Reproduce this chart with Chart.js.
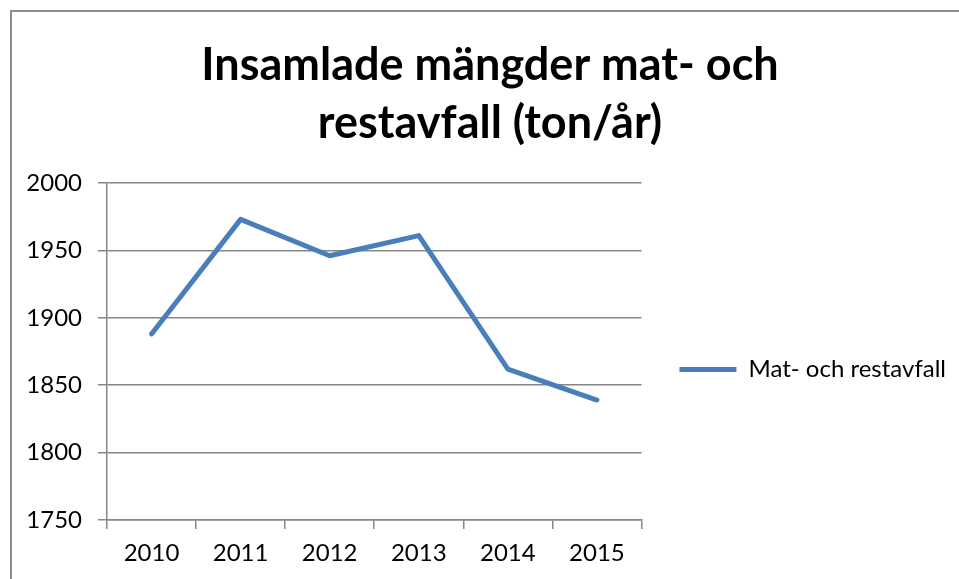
<!DOCTYPE html>
<html lang="sv">
<head>
    <meta charset="UTF-8">
    <title>Insamlade mängder</title>
    <script src="https://cdn.jsdelivr.net/npm/chart.js@4.4.0/dist/chart.umd.min.js"></script>
    <style>
        html, body { margin: 0; padding: 0; background: #fff; }
        #wrap { position: relative; width: 959px; height: 579px; overflow: hidden; }
        #ram { position: absolute; left: 10px; top: 10px; width: 980px; height: 600px;
               border: 2px solid #8c8c8c; pointer-events: none; }
    </style>
</head>
<body>
<div id="wrap">
    <canvas id="graf" width="959" height="579"></canvas>
    <div id="ram"></div>
</div>
<script>

    // Data
    let ar = ['2010', '2011', '2012', '2013', '2014', '2015'];
    let matOchRest = [1888, 1973, 1946, 1961, 1862, 1839];
    let yMin = 1750, yMax = 2000, ySteg = 50;
    let titel = ['Insamlade mängder mat- och', 'restavfall (ton/år)'];
    let serieNamn = 'Mat- och restavfall';

    let bla = '#4a7ebb';
    let gra = '#868686';
    let typsnitt = 'Lato, Carlito, Calibri, sans-serif';

    Chart.defaults.font.family = typsnitt;
    Chart.defaults.color = '#000';

    let ctx = document.getElementById('graf').getContext('2d');
    let chart = new Chart(ctx, {
        type: 'line',
        data: {
            labels: ar,
            datasets: [{
                label: serieNamn,
                data: matOchRest,
                borderColor: bla,
                backgroundColor: bla,
                borderWidth: 5,
                borderCapStyle: 'round',
                borderJoinStyle: 'round',
                pointRadius: 0,
                tension: 0
            }]
        },
        options: {
            responsive: false,
            animation: false,
            layout: { padding: { left: 24, right: 3, top: 0, bottom: 0 } },
            plugins: {
                title: {
                    display: true,
                    text: titel,
                    font: { size: 45, weight: 'bold', lineHeight: 1.3 },
                    color: '#000',
                    padding: { top: 36, bottom: 30 }
                },
                legend: {
                    position: 'right',
                    maxWidth: 320,
                    // tom titel bara for att flytta ner posten
                    title: { display: true, text: ' ', font: { size: 10 }, padding: 74 },
                    labels: {
                        usePointStyle: true,
                        pointStyle: 'line',
                        pointStyleWidth: 57,
                        padding: 38,
                        font: { size: 24 },
                        color: '#000'
                    }
                },
                tooltip: { enabled: false }
            },
            scales: {
                x: {
                    offset: true,
                    grid: { offset: true, drawOnChartArea: false, drawTicks: true, tickLength: 9, color: gra, lineWidth: 1.5 },
                    border: { display: true, color: gra, width: 1.5 },
                    ticks: { padding: 10, font: { size: 24 }, color: '#000', maxRotation: 0 },
                    afterFit: s => { s.height = 59; }
                },
                y: {
                    min: yMin,
                    max: yMax,
                    grid: { color: gra, lineWidth: 1.5, tickLength: 9 },
                    border: { display: true, color: gra, width: 1.5 },
                    ticks: { stepSize: ySteg, padding: 16, font: { size: 24 }, color: '#000',
                             callback: v => String(v) },
                    afterFit: s => { s.width = 83; }
                }
            }
        }
    });

</script>
</body>
</html>
